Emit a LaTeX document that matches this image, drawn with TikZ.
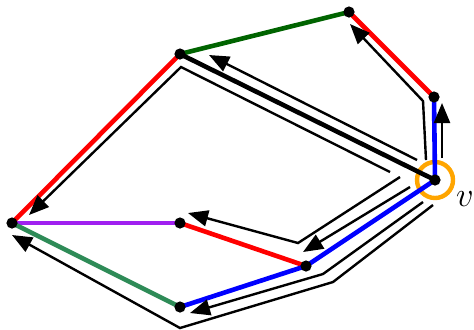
\documentclass[tikz,border=0pt]{standalone}
\usetikzlibrary{arrows.meta}
\definecolor{darkgreen}{RGB}{0,100,0}
\definecolor{seagreen}{RGB}{46,139,87}
\definecolor{purp}{RGB}{160,32,240}
\definecolor{orng}{RGB}{255,165,0}
\begin{document}
\begin{tikzpicture}[x=0.5pt, y=-0.5pt, >={Triangle[length=10pt,width=8pt]},
    vtx/.style={circle, fill=black, inner sep=0pt, minimum size=5.6pt},
    edge/.style={line width=2.3pt},
    tour/.style={->, line width=1.2pt, line join=miter}]
	\useasboundingbox (0,0) rectangle (474,329);
	
	% 1. vertices
	\coordinate (v) at (435,180);
	\coordinate (a) at (434,97);
	\coordinate (b) at (349,12);
	\coordinate (c) at (180,54);
	\coordinate (d) at (12,223);
	\coordinate (e) at (180,223);
	\coordinate (f) at (306,266);
	\coordinate (g) at (180,307);
	
	% 2. marked vertex v
	\draw[orng, line width=2.2pt] (v) circle[radius=9pt];
	\node[font=\LARGE] (vlabel) at (465,199) {$v$};
	
	% 3. coloured edges
	\draw[edge, blue] (v) -- (a);
	\draw[edge, red] (a) -- (b);
	\draw[edge, darkgreen] (b) -- (c);
	\draw[edge, red] (c) -- (d);
	\draw[edge, purp] (d) -- (e);
	\draw[edge, red] (e) -- (f);
	\draw[edge, blue] (f) -- (v);
	\draw[edge, blue] (f) -- (g);
	\draw[edge, seagreen] (g) -- (d);
	\draw[edge, black] (c) -- (v);
	
	% 4. vertex dots
	\foreach \p in {v,a,b,c,d,e,f,g}
		\node[vtx] (dot-\p) at (\p) {};
	
	% 5. walk around the edges
	\coordinate (s1) at (442,158); \coordinate (t1) at (442,103);
	\coordinate (s2) at (426,160); \coordinate (k2) at (423,101); \coordinate (t2) at (350,24);
	\coordinate (s3) at (417,160); \coordinate (t3) at (209,55);
	\coordinate (s4) at (390,172); \coordinate (k4) at (181,67); \coordinate (t4) at (29,215);
	\coordinate (s5) at (400,177); \coordinate (k5) at (298,243); \coordinate (t5) at (188,213);
	\coordinate (s6) at (410,187); \coordinate (t6) at (303,252);
	\coordinate (s7) at (423,202); \coordinate (k7) at (323,274); \coordinate (t7) at (190,313);
	\coordinate (s8) at (433,205); \coordinate (k8) at (333,282); \coordinate (m8) at (180,328); \coordinate (t8) at (12,235);
	
	\draw[tour] (s1) -- (t1);
	\draw[tour] (s2) -- (k2) -- (t2);
	\draw[tour] (s3) -- (t3);
	\draw[tour] (s4) -- (k4) -- (t4);
	\draw[tour] (s5) -- (k5) -- (t5);
	\draw[tour] (s6) -- (t6);
	\draw[tour] (s7) -- (k7) -- (t7);
	\draw[tour] (s8) -- (k8) -- (m8) -- (t8);
\end{tikzpicture}
\end{document}
